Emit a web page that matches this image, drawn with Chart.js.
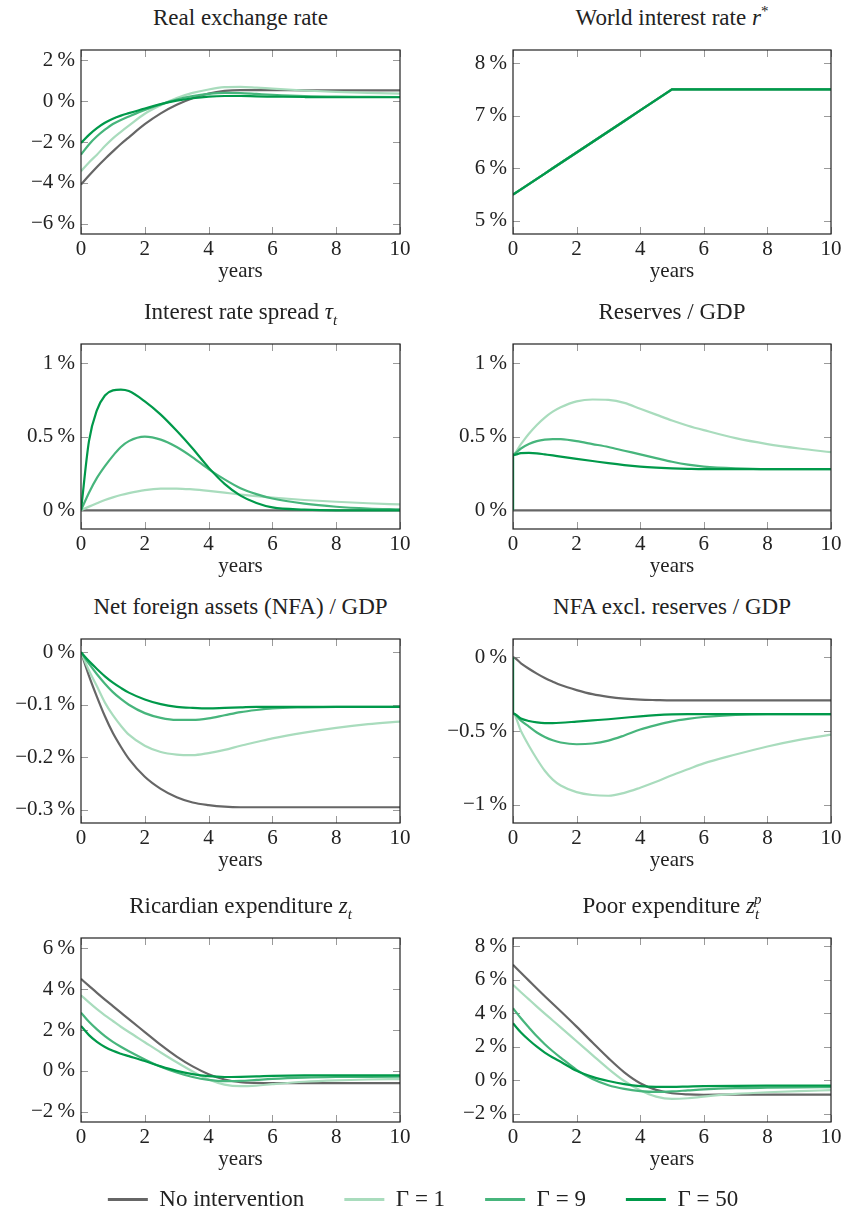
<!DOCTYPE html>
<html>
<head>
<meta charset="utf-8">
<script src="https://cdn.jsdelivr.net/npm/chart.js@4.4.0/dist/chart.umd.min.js"></script>
<style>
  html, body { margin: 0; background: #fff; overflow: hidden; }
  #page { position: relative; width: 846px; height: 1216px; overflow: hidden; font-family: "Liberation Serif", serif; color: #222; }
  #page canvas { position: absolute; }
  .ttl { position: absolute; font-size: 23px; line-height: 22px; text-align: center; white-space: nowrap; }
  .ttl sub, .ttl sup { font-size: 15px; line-height: 0; }
</style>
</head>
<body>
<div id="page"></div>
<script>
const years = [0, 0.25, 0.5, 0.75, 1, 1.25, 1.5, 2, 2.5, 3, 3.5, 4, 4.5, 5, 5.5, 6, 7, 8, 9, 10];
// same grid with the jump at t = 0 (value before the intervention first)
const yearsJump = [0].concat(years);
const xTicks = [0, 2, 4, 6, 8, 10];

const seriesNames = ['No intervention', '\u0393 = 1', '\u0393 = 9', '\u0393 = 50'];
const seriesColors = ['#666666', '#a9dcbd', '#47b57c', '#00994a'];

// Real exchange rate (%)
const rerNone = [-4.08, -3.64, -3.22, -2.83, -2.46, -2.1, -1.77, -1.13, -0.6, -0.18, 0.14, 0.37, 0.5, 0.54, 0.54, 0.54, 0.53, 0.53, 0.53, 0.53];
const rerG1 = [-3.43, -3.0, -2.62, -2.2, -1.82, -1.5, -1.2, -0.62, -0.2, 0.15, 0.4, 0.57, 0.68, 0.7, 0.66, 0.61, 0.52, 0.45, 0.4, 0.37];
const rerG9 = [-2.62, -2.12, -1.72, -1.4, -1.12, -0.92, -0.75, -0.43, -0.16, 0.07, 0.24, 0.35, 0.4, 0.39, 0.35, 0.31, 0.25, 0.22, 0.21, 0.2];
const rerG50 = [-2.05, -1.65, -1.32, -1.06, -0.86, -0.71, -0.59, -0.36, -0.15, 0.02, 0.14, 0.22, 0.25, 0.25, 0.23, 0.22, 0.2, 0.19, 0.19, 0.19];
const rerTicks = [-6, -4, -2, 0, 2];

// World interest rate r* (%)
const worldRate = [5.5, 5.6, 5.7, 5.8, 5.9, 6.0, 6.1, 6.3, 6.5, 6.7, 6.9, 7.1, 7.3, 7.5, 7.5, 7.5, 7.5, 7.5, 7.5, 7.5];
const worldTicks = [5, 6, 7, 8];

// Interest rate spread tau_t (%)
const sprNone = [0, 0, 0, 0, 0, 0, 0, 0, 0, 0, 0, 0, 0, 0, 0, 0, 0, 0, 0, 0];
const sprG1 = [0, 0.025, 0.048, 0.07, 0.088, 0.104, 0.117, 0.137, 0.147, 0.148, 0.142, 0.132, 0.12, 0.107, 0.096, 0.086, 0.07, 0.058, 0.048, 0.04];
const sprG9 = [0, 0.12, 0.22, 0.3, 0.37, 0.43, 0.47, 0.5, 0.48, 0.43, 0.36, 0.28, 0.21, 0.15, 0.11, 0.08, 0.045, 0.024, 0.012, 0.006];
const sprG50 = [0, 0.47, 0.68, 0.78, 0.815, 0.82, 0.81, 0.74, 0.65, 0.54, 0.42, 0.29, 0.18, 0.1, 0.05, 0.02, 0.005, 0, 0, 0];
const sprTicks = [0, 0.5, 1];

// Reserves / GDP (%), on yearsJump
const resNone = [0, 0, 0, 0, 0, 0, 0, 0, 0, 0, 0, 0, 0, 0, 0, 0, 0, 0, 0, 0, 0];
const resG1 = [0, 0.38, 0.45, 0.52, 0.58, 0.63, 0.67, 0.7, 0.74, 0.753, 0.75, 0.73, 0.69, 0.65, 0.61, 0.575, 0.545, 0.49, 0.45, 0.42, 0.395];
const resG9 = [0, 0.38, 0.42, 0.45, 0.47, 0.48, 0.484, 0.483, 0.47, 0.45, 0.43, 0.405, 0.38, 0.355, 0.33, 0.31, 0.297, 0.285, 0.28, 0.28, 0.28];
const resG50 = [0, 0.375, 0.388, 0.39, 0.387, 0.38, 0.373, 0.365, 0.35, 0.335, 0.32, 0.307, 0.297, 0.29, 0.285, 0.282, 0.28, 0.28, 0.28, 0.28, 0.28];
const resTicks = [0, 0.5, 1];

// Net foreign assets / GDP (%)
const nfaNone = [0, -0.045, -0.085, -0.122, -0.154, -0.18, -0.203, -0.237, -0.26, -0.276, -0.286, -0.291, -0.294, -0.295, -0.295, -0.295, -0.295, -0.295, -0.295, -0.295];
const nfaG1 = [0, -0.035, -0.065, -0.096, -0.12, -0.14, -0.157, -0.178, -0.19, -0.195, -0.196, -0.192, -0.186, -0.178, -0.171, -0.164, -0.153, -0.144, -0.137, -0.132];
const nfaG9 = [0, -0.022, -0.042, -0.06, -0.076, -0.089, -0.1, -0.116, -0.125, -0.129, -0.129, -0.126, -0.12, -0.114, -0.11, -0.107, -0.105, -0.104, -0.104, -0.104];
const nfaG50 = [0, -0.017, -0.032, -0.046, -0.058, -0.068, -0.077, -0.09, -0.099, -0.104, -0.106, -0.107, -0.106, -0.105, -0.104, -0.104, -0.104, -0.104, -0.104, -0.104];
const nfaTicks = [-0.3, -0.2, -0.1, 0];

// NFA excl. reserves / GDP (%), on yearsJump
const nfxNone = [0, 0, -0.04, -0.077, -0.11, -0.14, -0.165, -0.188, -0.222, -0.25, -0.268, -0.28, -0.287, -0.29, -0.292, -0.292, -0.292, -0.292, -0.292, -0.292, -0.292];
const nfxG1 = [0, -0.38, -0.5, -0.6, -0.69, -0.77, -0.83, -0.87, -0.915, -0.935, -0.94, -0.92, -0.885, -0.845, -0.8, -0.76, -0.72, -0.66, -0.605, -0.56, -0.525];
const nfxG9 = [0, -0.38, -0.43, -0.47, -0.51, -0.54, -0.563, -0.578, -0.59, -0.585, -0.565, -0.53, -0.49, -0.46, -0.435, -0.418, -0.405, -0.39, -0.385, -0.385, -0.385];
const nfxG50 = [0, -0.38, -0.415, -0.432, -0.442, -0.446, -0.446, -0.444, -0.436, -0.428, -0.42, -0.41, -0.4, -0.392, -0.387, -0.385, -0.385, -0.385, -0.385, -0.385, -0.385];
const nfxTicks = [-1, -0.5, 0];

// Ricardian expenditure z_t (%)
const ricNone = [4.5, 4.16, 3.82, 3.49, 3.17, 2.85, 2.53, 1.9, 1.27, 0.7, 0.22, -0.16, -0.42, -0.55, -0.59, -0.6, -0.6, -0.6, -0.6, -0.6];
const ricG1 = [3.7, 3.35, 3.02, 2.72, 2.44, 2.16, 1.9, 1.4, 0.9, 0.42, -0.03, -0.42, -0.67, -0.75, -0.72, -0.65, -0.53, -0.46, -0.42, -0.4];
const ricG9 = [2.85, 2.4, 2.03, 1.7, 1.42, 1.18, 0.96, 0.56, 0.2, -0.08, -0.3, -0.44, -0.5, -0.49, -0.44, -0.39, -0.33, -0.3, -0.29, -0.28];
const ricG50 = [2.2, 1.75, 1.42, 1.17, 0.98, 0.84, 0.72, 0.48, 0.22, 0.0, -0.16, -0.26, -0.3, -0.29, -0.27, -0.24, -0.22, -0.22, -0.22, -0.22];
const ricTicks = [-2, 0, 2, 4, 6];

// Poor expenditure z_t^p (%)
const poorNone = [6.9, 6.42, 5.95, 5.48, 5.02, 4.57, 4.12, 3.2, 2.25, 1.32, 0.47, -0.18, -0.58, -0.78, -0.85, -0.87, -0.86, -0.86, -0.86, -0.86];
const poorG1 = [5.7, 5.26, 4.83, 4.4, 3.98, 3.57, 3.16, 2.33, 1.5, 0.68, -0.05, -0.6, -0.98, -1.12, -1.08, -0.98, -0.82, -0.72, -0.65, -0.6];
const poorG9 = [4.3, 3.7, 3.15, 2.62, 2.15, 1.73, 1.35, 0.62, 0.07, -0.3, -0.52, -0.65, -0.7, -0.67, -0.61, -0.55, -0.48, -0.45, -0.43, -0.42];
const poorG50 = [3.4, 2.85, 2.4, 2.0, 1.65, 1.36, 1.1, 0.56, 0.2, -0.05, -0.24, -0.36, -0.4, -0.4, -0.38, -0.36, -0.34, -0.33, -0.33, -0.33];
const poorTicks = [-2, 0, 2, 4, 6, 8];

const FONT = '"Liberation Serif", serif';
const page = document.getElementById('page');

function fmtPct(v) {
  return (v < 0 ? '\u2212' : '') + Math.abs(v) + '\u2009%';
}

// pgfplots-like box: inward ticks on all four sides, dark frame on top
const framePlugin = {
  id: 'frame',
  beforeDatasetsDraw(chart) {
    const { ctx, chartArea: a, scales: { x, y } } = chart;
    const len = 7;
    ctx.save();
    ctx.strokeStyle = '#9a9a9a';
    ctx.lineWidth = 1;
    ctx.beginPath();
    x.ticks.forEach(t => {
      const px = Math.round(x.getPixelForValue(t.value)) + 0.5;
      ctx.moveTo(px, a.bottom); ctx.lineTo(px, a.bottom - len);
      ctx.moveTo(px, a.top); ctx.lineTo(px, a.top + len);
    });
    y.ticks.forEach(t => {
      const py = Math.round(y.getPixelForValue(t.value)) + 0.5;
      ctx.moveTo(a.left, py); ctx.lineTo(a.left + len, py);
      ctx.moveTo(a.right, py); ctx.lineTo(a.right - len, py);
    });
    ctx.stroke();
    ctx.restore();
  },
  afterDatasetsDraw(chart) {
    const { ctx, chartArea: a } = chart;
    ctx.save();
    ctx.strokeStyle = '#222';
    ctx.lineWidth = 1.2;
    ctx.strokeRect(a.left, a.top, a.right - a.left, a.bottom - a.top);
    ctx.restore();
  }
};

const panels = [
  { title: 'Real exchange rate', col: 0, top: 50, bottom: 234, yMin: -6.5, yMax: 2.5, yTicks: rerTicks, x: years, series: [rerNone, rerG1, rerG9, rerG50] },
  { title: 'World interest rate <i>r</i><sup>*</sup>', col: 1, top: 50, bottom: 234, yMin: 4.75, yMax: 8.25, yTicks: worldTicks, x: years, series: [worldRate, worldRate, worldRate, worldRate], straight: true },
  { title: 'Interest rate spread <i>\u03c4<sub>t</sub></i>', col: 0, top: 344, bottom: 529, yMin: -0.127, yMax: 1.13, yTicks: sprTicks, x: years, series: [sprNone, sprG1, sprG9, sprG50] },
  { title: 'Reserves / GDP', col: 1, top: 344, bottom: 529, yMin: -0.127, yMax: 1.13, yTicks: resTicks, x: yearsJump, series: [resNone, resG1, resG9, resG50] },
  { title: 'Net foreign assets (NFA) / GDP', col: 0, top: 639, bottom: 823, yMin: -0.325, yMax: 0.025, yTicks: nfaTicks, x: years, series: [nfaNone, nfaG1, nfaG9, nfaG50] },
  { title: 'NFA excl. reserves / GDP', col: 1, top: 639, bottom: 823, yMin: -1.125, yMax: 0.125, yTicks: nfxTicks, x: yearsJump, series: [nfxNone, nfxG1, nfxG9, nfxG50] },
  { title: 'Ricardian expenditure <i>z<sub>t</sub></i>', col: 0, top: 938, bottom: 1122, yMin: -2.5, yMax: 6.5, yTicks: ricTicks, x: years, series: [ricNone, ricG1, ricG9, ricG50] },
  { title: 'Poor expenditure <i>z<sub>t</sub><sup style="margin-left:-5px">p</sup></i>', col: 1, top: 938, bottom: 1122, yMin: -2.5, yMax: 8.5, yTicks: poorTicks, x: years, series: [poorNone, poorG1, poorG9, poorG50] }
];

function makePanel(p) {
  const left = p.col === 0 ? 0 : 420;
  const width = p.col === 0 ? 420 : 426;
  const plotLeft = p.col === 0 ? 81 : 513;
  const plotRight = p.col === 0 ? 400 : 831;
  const padTop = 20, axisH = 50;

  const cv = document.createElement('canvas');
  cv.width = width;
  cv.height = p.bottom - p.top + padTop + axisH;
  cv.style.left = left + 'px';
  cv.style.top = (p.top - padTop) + 'px';
  page.appendChild(cv);

  const t = document.createElement('div');
  t.className = 'ttl';
  t.innerHTML = p.title;
  t.style.left = plotLeft + 'px';
  t.style.width = (plotRight - plotLeft) + 'px';
  t.style.top = (p.top - 43) + 'px';
  page.appendChild(t);

  new Chart(cv, {
    type: 'line',
    data: {
      datasets: p.series.map((vals, i) => ({
        label: seriesNames[i],
        data: p.x.map((x, k) => ({ x: x, y: vals[k] })),
        borderColor: seriesColors[i],
        backgroundColor: seriesColors[i],
        borderWidth: 2.2,
        pointRadius: 0,
        fill: false,
        cubicInterpolationMode: p.straight ? 'default' : 'monotone',
        tension: 0,
        order: 3 - i
      }))
    },
    options: {
      responsive: false,
      animation: false,
      layout: { padding: { top: padTop, right: width - (plotRight - left), left: 0, bottom: 0 } },
      plugins: { legend: { display: false }, tooltip: { enabled: false } },
      scales: {
        x: {
          type: 'linear', min: 0, max: 10,
          grid: { display: false, drawTicks: false },
          border: { display: false },
          afterBuildTicks: s => { s.ticks = xTicks.map(v => ({ value: v })); },
          afterFit: s => { s.height = axisH; },
          ticks: { color: '#222', font: { family: FONT, size: 21 }, padding: 3, maxRotation: 0, autoSkip: false },
          title: { display: true, text: 'years', color: '#222', font: { family: FONT, size: 21 }, padding: { top: 0, bottom: 0 } }
        },
        y: {
          type: 'linear', min: p.yMin, max: p.yMax,
          grid: { display: false, drawTicks: false },
          border: { display: false },
          afterBuildTicks: s => { s.ticks = p.yTicks.map(v => ({ value: v })); },
          afterFit: s => { s.width = plotLeft - left; },
          ticks: { color: '#222', font: { family: FONT, size: 21 }, padding: 6, callback: v => fmtPct(v) }
        }
      }
    },
    plugins: [framePlugin]
  });
}

panels.forEach(makePanel);

// legend strip along the bottom (canvas runs past the page edge so the
// legend box gets enough room; the page clips it)
const lg = document.createElement('canvas');
lg.width = 846;
lg.height = 240;
lg.style.left = '0px';
lg.style.top = '1148px';
page.appendChild(lg);
new Chart(lg, {
  type: 'line',
  data: {
    datasets: seriesNames.map((name, i) => ({
      label: name, data: [], borderColor: seriesColors[i], backgroundColor: seriesColors[i], borderWidth: 3
    }))
  },
  options: {
    responsive: false,
    animation: false,
    scales: { x: { display: false }, y: { display: false } },
    plugins: {
      tooltip: { enabled: false },
      legend: {
        display: true, position: 'top',
        labels: { usePointStyle: true, pointStyle: 'line', pointStyleWidth: 40, color: '#222', font: { family: FONT, size: 23 }, padding: 40 }
      }
    }
  }
});
</script>
</body>
</html>
